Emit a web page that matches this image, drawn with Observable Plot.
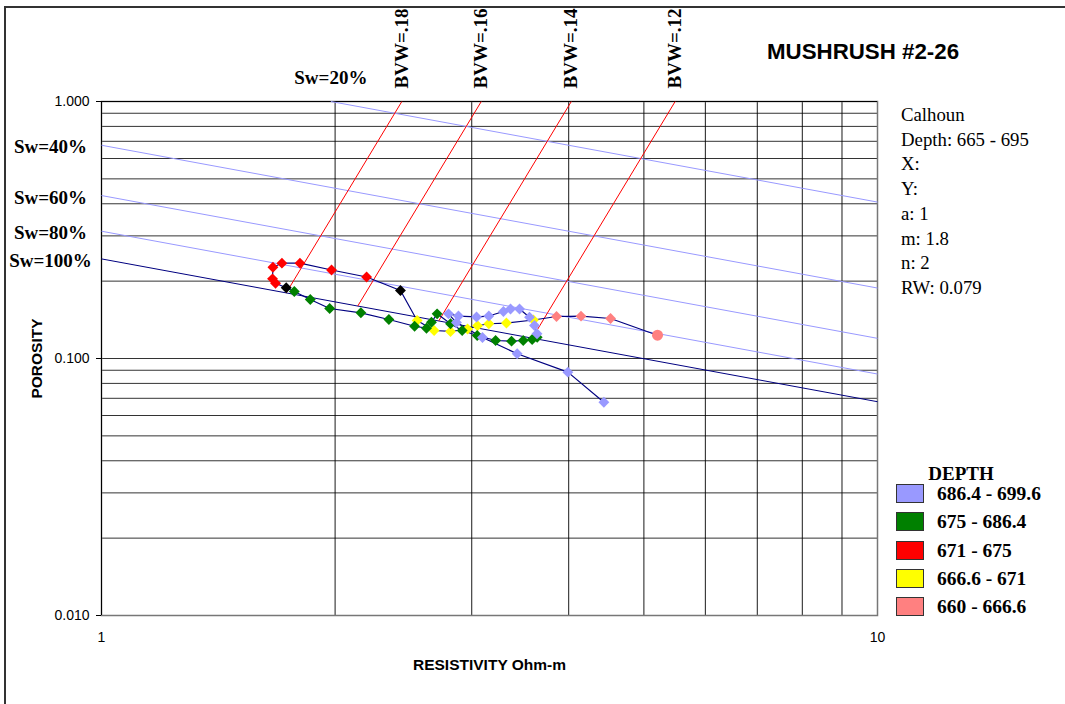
<!DOCTYPE html>
<html><head><meta charset="utf-8">
<script src="https://cdn.jsdelivr.net/npm/d3@7"></script>
<script src="https://cdn.jsdelivr.net/npm/@observablehq/plot@0.6"></script>
<style>
body{margin:0;background:#fff;overflow:hidden}
#wrap{position:relative;width:1065px;height:704px;overflow:hidden}
#wrap svg{position:absolute;left:0;top:0}
.ov{position:absolute;white-space:nowrap;line-height:1;transform:translateY(-50%)}
.serif{font-family:"Liberation Serif","Times New Roman",serif;color:#000}
.box{position:absolute;width:26px;height:17px;border:1px solid #333}
</style></head><body><div id="wrap"></div>
<script>
// ---- data ----
const title = "MUSHRUSH #2-26";
const infoLines = ["Calhoun","Depth: 665 - 695","X:","Y:","a: 1","m: 1.8","n: 2","RW: 0.079"];
const legendTitle = "DEPTH";
const legendLabels = ["686.4 - 699.6","675 - 686.4","671 - 675","666.6 - 671","660 - 666.6"];

const xTicks = [1, 10];
const yTicks = [0.01, 0.1, 1];
const xGrid = [2,3,4,5,6,7,8,9];
const yGrid = [0.02,0.03,0.04,0.05,0.06,0.07,0.08,0.09,0.1,0.2,0.3,0.4,0.5,0.6,0.7,0.8,0.9];

// Water saturation lines (end points)
const swLabels   = ["Sw=20%","Sw=40%","Sw=60%","Sw=80%","Sw=100%"];
const swStartRt  = [1.975, 1, 1, 1, 1];
const swStartPhi = [1, 0.6757, 0.4306, 0.3128, 0.2441];
const swEndRt    = [10, 10, 10, 10, 10];
const swEndPhi   = [0.4061, 0.1880, 0.1198, 0.0870, 0.0679];

// Bulk volume water lines (end points)
const bvwLabels    = ["BVW=.18","BVW=.16","BVW=.14","BVW=.12"];
const bvwBottomRt  = [1.730, 2.139, 2.720, 3.590];
const bvwBottomPhi = [0.18, 0.16, 0.14, 0.12];
const bvwTopRt     = [2.438, 3.086, 4.031, 5.486];
const bvwTopPhi    = [1, 1, 1, 1];

// Samples, in depth order within each range
const pinkRt    = [5.206, 4.529, 4.149, 3.858];
const pinkPhi   = [0.1232, 0.1431, 0.1461, 0.1457];
const yellowRt  = [3.603, 3.325, 3.156, 3.052, 2.963, 2.817, 2.683, 2.551];
const yellowPhi = [0.1412, 0.1374, 0.1365, 0.1341, 0.1302, 0.1274, 0.1285, 0.1405];
const blackRt   = [2.428, 1.730];
const blackPhi  = [0.1839, 0.1884];
const redRt     = [2.196, 1.979, 1.802, 1.708, 1.663, 1.661, 1.676];
const redPhi    = [0.2075, 0.2210, 0.2349, 0.2349, 0.2266, 0.2042, 0.1963];
const greenRt   = [1.772, 1.858, 1.968, 2.159, 2.346, 2.532, 2.623, 2.662, 2.707, 2.817, 2.916, 3.049, 3.220, 3.376, 3.495, 3.589, 3.643];
const greenPhi  = [0.1823, 0.1697, 0.1565, 0.1506, 0.1418, 0.1335, 0.1312, 0.1384, 0.1492, 0.1365, 0.1285, 0.1229, 0.1175, 0.1168, 0.1175, 0.1185, 0.1210];
const purpleRt  = [3.641, 3.614, 3.561, 3.457, 3.366, 3.296, 3.156, 3.043, 2.884, 2.800, 2.867, 3.097, 3.433, 3.990, 4.440];
const purplePhi = [0.1248, 0.1344, 0.1448, 0.1558, 0.1558, 0.1523, 0.1463, 0.1451, 0.1463, 0.1492, 0.1380, 0.1207, 0.1043, 0.0885, 0.0676];

// ---- styles ----
const C = {purple:"#9999FF", green:"#008000", red:"#FF0000", yellow:"#FFFF00", pink:"#FF8080", black:"#000000"};
const legendColors = [C.purple, C.green, C.red, C.yellow, C.pink];
const NAVY = "#000080", LIGHT = "#9999FF";

const pts = (rt, phi, key) => rt.map((r, i) => ({rt: r, phi: phi[i], color: C[key], key, i}));
const pink = pts(pinkRt, pinkPhi, "pink");
const yellow = pts(yellowRt, yellowPhi, "yellow");
const black = pts(blackRt, blackPhi, "black");
const red = pts(redRt, redPhi, "red");
const green = pts(greenRt, greenPhi, "green");
const purple = pts(purpleRt, purplePhi, "purple");
const path = [...pink, ...yellow, black[0], ...red, black[1], ...green, ...purple];
const diamonds = [...pink.slice(1), ...yellow, ...red, ...black, ...green, ...purple];
const circles = pink.slice(0, 1);

const swIdx = d3.range(swLabels.length);
const bvwIdx = d3.range(bvwLabels.length);
const SERIF = "Liberation Serif, Times New Roman, serif";

const chart = Plot.plot({
  width: 1065, height: 704,
  marginLeft: 101, marginRight: 188, marginTop: 101, marginBottom: 89,
  style: {fontFamily: "Liberation Sans, Arial, sans-serif", fontSize: "14px", background: "transparent", overflow: "visible", color: "#000"},
  x: {type: "log", domain: [1, 10]},
  y: {type: "log", domain: [0.01, 1]},
  color: {type: "identity"},
  marks: [
    Plot.ruleY(yGrid, {y: d => d, stroke: "#000", strokeOpacity: 0.8}),
    Plot.ruleX(xGrid, {x: d => d, stroke: "#000", strokeOpacity: 0.9}),
    Plot.frame({stroke: "#777", strokeWidth: 1.5}),
    Plot.ruleX([1], {stroke: "#000"}),
    Plot.ruleY([1], {stroke: "#000"}),
    Plot.axisY({ticks: yTicks, tickFormat: d3.format(".3f"), tickSize: 5, tickPadding: 7, label: null, fontSize: 14}),
    Plot.axisX({ticks: xTicks, tickFormat: d => String(d), tickSize: 0, tickPadding: 17, label: null, fontSize: 14}),
    Plot.link(swIdx, {x1: i => swStartRt[i], y1: i => swStartPhi[i], x2: i => swEndRt[i], y2: i => swEndPhi[i],
      stroke: i => i === swLabels.length - 1 ? NAVY : LIGHT, strokeWidth: 1}),
    Plot.link(bvwIdx, {x1: i => bvwBottomRt[i], y1: i => bvwBottomPhi[i], x2: i => bvwTopRt[i], y2: i => bvwTopPhi[i],
      stroke: "#FF0000", strokeWidth: 1}),
    Plot.line(path, {x: "rt", y: "phi", stroke: NAVY, strokeWidth: 1.2}),
    Plot.dot(diamonds, {x: "rt", y: "phi", fill: "color", stroke: "none", symbol: "diamond2", r: 4.9}),
    Plot.dot(circles, {x: "rt", y: "phi", fill: "color", stroke: "none", symbol: "circle", r: 5.5}),
    // Sw labels
    Plot.text(swIdx.slice(1), {x: i => swStartRt[i], y: i => swStartPhi[i], text: i => swLabels[i],
      dx: -51, dy: 2, textAnchor: "middle", lineAnchor: "middle", fontFamily: SERIF, fontWeight: "bold", fontSize: 19}),
    Plot.text([0], {x: i => swStartRt[i], y: i => swStartPhi[i], text: i => swLabels[i],
      dy: -24, textAnchor: "middle", lineAnchor: "middle", fontFamily: SERIF, fontWeight: "bold", fontSize: 19}),
    // BVW labels
    Plot.text(bvwIdx, {x: i => bvwTopRt[i], y: i => bvwTopPhi[i], text: i => bvwLabels[i],
      rotate: -90, dy: -13, textAnchor: "start", lineAnchor: "middle", fontFamily: SERIF, fontWeight: "bold", fontSize: 19}),
    // axis titles
    Plot.text(["POROSITY"], {frameAnchor: "left", rotate: -90, dx: -64, textAnchor: "middle", lineAnchor: "middle", fontWeight: "bold", fontSize: 15.5}),
    Plot.text(["RESISTIVITY Ohm-m"], {frameAnchor: "bottom", dy: 50, textAnchor: "middle", lineAnchor: "middle", fontWeight: "bold", fontSize: 15.5})
  ]
});

const wrap = document.getElementById("wrap");
wrap.appendChild(chart);

function addText(txt, left, cy, css) {
  const d = document.createElement("div");
  d.className = "ov";
  d.textContent = txt;
  d.style.left = left + "px";
  d.style.top = cy + "px";
  Object.assign(d.style, css || {});
  wrap.appendChild(d);
  return d;
}
// outer border
const border = document.createElement("div");
Object.assign(border.style, {position: "absolute", left: "4px", top: "6px", width: "1100px", height: "800px",
  borderLeft: "2px solid #333", borderTop: "2px solid #333"});
wrap.appendChild(border);

// title
addText(title, 767, 52, {fontFamily: "Liberation Sans, Arial, sans-serif", fontWeight: "bold", fontSize: "22.3px"});

// info panel
infoLines.forEach((t, i) => {
  const d = addText(t, 901, 115 + i * 24.7, {fontSize: "18.8px"});
  d.classList.add("serif");
});

// legend
const lt = addText(legendTitle, 961, 473, {fontSize: "19px", fontWeight: "bold", transform: "translate(-50%,-50%)"});
lt.classList.add("serif");
legendLabels.forEach((t, i) => {
  const top = 484 + i * 28.25;
  const b = document.createElement("div");
  b.className = "box";
  b.style.left = "896px";
  b.style.top = top + "px";
  b.style.background = legendColors[i];
  wrap.appendChild(b);
  const d = addText(t, 937, top + 10, {fontSize: "19.5px", fontWeight: "bold"});
  d.classList.add("serif");
});
</script>
</body></html>
